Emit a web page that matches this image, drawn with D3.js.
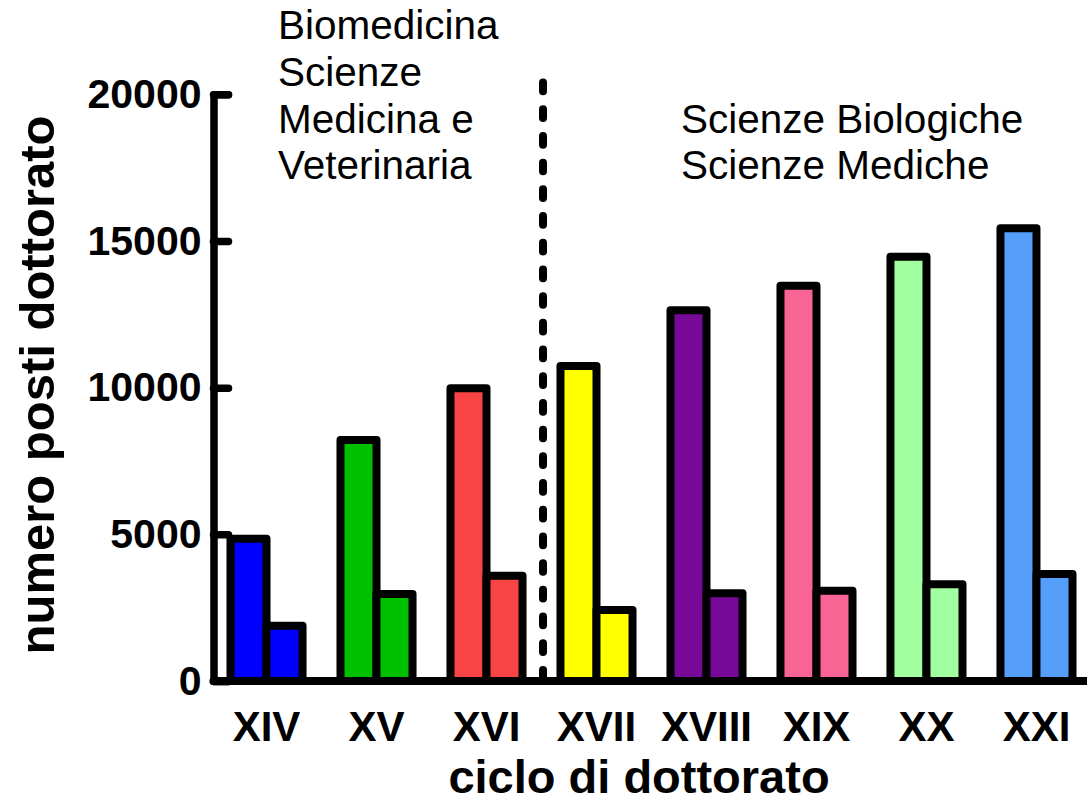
<!DOCTYPE html>
<html>
<head>
<meta charset="utf-8">
<script src="https://cdn.jsdelivr.net/npm/d3@7"></script>
<style>
  html, body { margin: 0; padding: 0; background: #fff; }
  svg { display: block; font-family: "Liberation Sans", Arial, sans-serif; }
</style>
</head>
<body>
<svg id="chart" width="1087" height="803"></svg>
<script>
// ---- data ----
const categories = ["XIV", "XV", "XVI", "XVII", "XVIII", "XIX", "XX", "XXI"];
const seriesTall  = [4850, 8215, 9980, 10740, 12640, 13470, 14460, 15430];
const seriesShort = [1885, 2965, 3590, 2420, 2990, 3080, 3300, 3650];
const barColors   = ["#0000ff", "#00c000", "#f84444", "#ffff00", "#780898", "#f86595", "#a2ffa0", "#559ffb"];
const yTickValues = [0, 5000, 10000, 15000, 20000];
const yDomain     = [0, 20000];
const dividerAfter = "XVI";      // dashed separator between XVI and XVII
const dividerTop   = 20400;      // top of dashed separator (data units)
const groupLeftLines  = ["Biomedicina", "Scienze", "Medicina e", "Veterinaria"];
const groupRightLines = ["Scienze Biologiche", "Scienze Mediche"];
const yTitle = "numero posti dottorato";
const xTitle = "ciclo di dottorato";

// ---- layout ----
const svg = d3.select("#chart");
const axisX = 213.5;

const y = d3.scaleLinear().domain(yDomain).range([681, 94.3]);

const x = d3.scaleBand()
  .domain(categories)
  .range([211.5, 1091.5])
  .paddingInner(0.345)
  .paddingOuter(0.1727);

const x1 = d3.scaleBand().domain(["tall", "short"]).range([0, x.bandwidth()]);

const rows = categories.map((c, i) => ({
  cat: c, color: barColors[i],
  vals: [{key: "tall", v: seriesTall[i]}, {key: "short", v: seriesShort[i]}]
}));

// bars
const groups = svg.append("g").selectAll("g").data(rows).join("g")
  .attr("transform", d => `translate(${x(d.cat)},0)`);

groups.selectAll("rect").data(d => d.vals.map(v => ({...v, color: d.color}))).join("rect")
  .attr("x", d => x1(d.key))
  .attr("width", x1.bandwidth())
  .attr("y", d => y(d.v))
  .attr("height", d => y(0) - y(d.v))
  .attr("fill", d => d.color)
  .attr("stroke", "#000")
  .attr("stroke-width", 8)
  .attr("stroke-linejoin", "round");

// x baseline
svg.append("line")
  .attr("x1", axisX).attr("x2", 1095)
  .attr("y1", y(0)).attr("y2", y(0))
  .attr("stroke", "#000").attr("stroke-width", 8).attr("stroke-linecap", "round");

// y axis (ticks pointing inward)
const yAxis = d3.axisLeft(y)
  .tickValues(yTickValues)
  .tickSizeInner(-15)
  .tickSizeOuter(-15)
  .tickPadding(12)
  .tickFormat(d3.format("d"));

const gy = svg.append("g").attr("transform", `translate(${axisX},0)`).call(yAxis);
gy.select(".domain")
  .attr("stroke-width", 7.5).attr("stroke-linejoin", "round").attr("stroke-linecap", "round");
gy.selectAll(".tick line")
  .attr("stroke-width", 7.5).attr("stroke-linecap", "round");
gy.selectAll(".tick text")
  .attr("font-family", '"Liberation Sans", Arial, sans-serif')
  .attr("font-size", 41).attr("font-weight", "bold").attr("fill", "#000");

// dashed separator
const iDiv = categories.indexOf(dividerAfter);
const divX = (x(categories[iDiv]) + x.bandwidth() + x(categories[iDiv + 1])) / 2 + 1.5;
svg.append("line")
  .attr("x1", divX).attr("x2", divX)
  .attr("y1", y(dividerTop)).attr("y2", y(0) - 4)
  .attr("stroke", "#000").attr("stroke-width", 8)
  .attr("stroke-linecap", "round")
  .attr("stroke-dasharray", "8.7,18");

// x category labels
svg.append("g").selectAll("text").data(categories).join("text")
  .attr("x", d => x(d) + x.bandwidth() / 2)
  .attr("y", 741)
  .attr("text-anchor", "middle")
  .attr("font-size", 42).attr("font-weight", "bold")
  .text(d => d);

// axis titles
svg.append("text")
  .attr("x", 639).attr("y", 793)
  .attr("text-anchor", "middle")
  .attr("font-size", 47).attr("font-weight", "bold")
  .text(xTitle);

svg.append("text")
  .attr("transform", "translate(54,385) rotate(-90)")
  .attr("text-anchor", "middle")
  .attr("font-size", 49).attr("font-weight", "bold")
  .text(yTitle);

// group annotations
svg.append("g").selectAll("text").data(groupLeftLines).join("text")
  .attr("x", 278).attr("y", (d, i) => 39.3 + i * 46.7)
  .attr("font-size", 40.5)
  .text(d => d);

svg.append("g").selectAll("text").data(groupRightLines).join("text")
  .attr("x", 681).attr("y", (d, i) => 132.7 + i * 46.7)
  .attr("font-size", 40.5)
  .text(d => d);
</script>
</body>
</html>
